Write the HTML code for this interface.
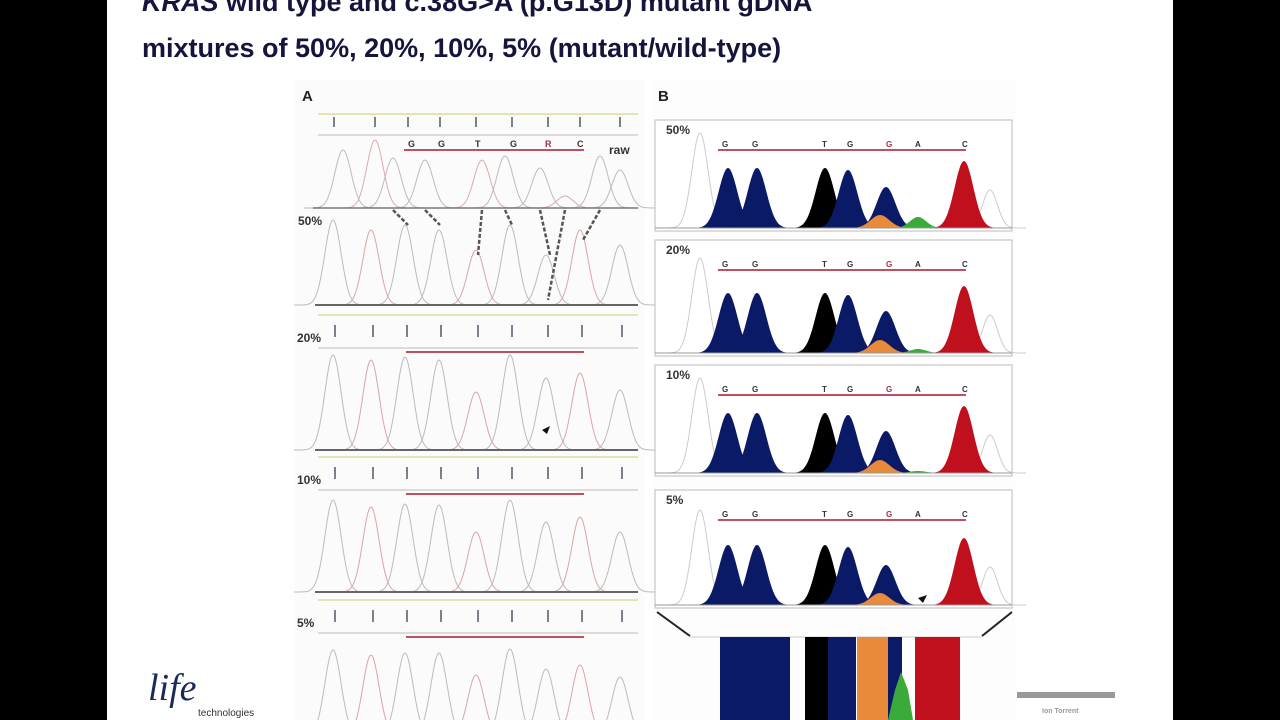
<!DOCTYPE html>
<html><head><meta charset="utf-8"><style>
html,body{margin:0;padding:0;background:#000;}
#slide{position:absolute;left:107px;top:0;width:1066px;height:720px;background:#fff;overflow:hidden}
.t{position:absolute;left:35px;font:bold 27px "Liberation Sans",sans-serif;color:#14143c;white-space:nowrap}
</style></head><body>
<div id="slide">
<div class="t" style="top:-13px"><i>KRAS</i> wild type and c.38G&gt;A (p.G13D) mutant gDNA</div>
<div class="t" style="top:33px">mixtures of 50%, 20%, 10%, 5% (mutant/wild-type)</div>
</div>
<svg id="c" width="1280" height="720" style="position:absolute;left:0;top:0"></svg>
<script>
const aPeaksX=[333,371,405,439,476,510,546,580,620];
const rawX=[343,375,393,425,482,505,540,565,600,620];
const rawH=[58,68,50,48,48,52,40,12,52,38];
const a50H=[85,75,80,75,55,80,50,75,60];
const a20H=[95,90,93,90,58,95,72,77,60];
const a10H=[92,85,88,87,60,92,70,75,60];
const a5H=[85,80,82,82,60,86,66,70,58];
const aPanels=[{lab:"50%",y:305,h:a50H},{lab:"20%",y:450,h:a20H},{lab:"10%",y:592,h:a10H},{lab:"5%",y:735,h:a5H}];
const bases=["G","G","T","G","G","A","C"];
const baseX=[722,752,822,847,886,915,962];
const bBlueX=[728,757,848,886];
const bBlueH50=[60,60,58,41];
const bBlack=[825,60];
const bRed=[964,67];
const orangeH=[13,13,13,12];
const greenH=[11,4,2,0];
const blue4H=[41,42,42,40];
const bPanels=[{lab:"50%",top:120,y:228},{lab:"20%",top:240,y:353},{lab:"10%",top:365,y:473},{lab:"5%",top:490,y:605}];
const NS="http://www.w3.org/2000/svg";
const svg=document.getElementById('c');
function el(t,a,txt){const e=document.createElementNS(NS,t);for(const k in a)e.setAttribute(k,a[k]);if(txt!==undefined)e.textContent=txt;svg.appendChild(e);return e;}
function peak(x,h,base,w,fill,stroke){let d=`M${x-3*w},${base}`;for(let i=-3*w;i<=3*w;i+=1){d+=` L${x+i},${(base-h*Math.exp(-(i*i)/(2*(w/1.6)**2))).toFixed(1)}`;}if(fill)d+=' Z';const p=el('path',{d:d,fill:fill||'none',stroke:stroke||'none','stroke-width':1});return p;}
let r=el('rect',{x:295,y:80,width:350,height:640,fill:'#fbfbfb'});
r=el('rect',{x:652,y:80,width:363,height:640,fill:'#fdfdfd'});
el('text',{x:302,y:101,'font-family':'Liberation Sans','font-weight':'bold','font-size':15,fill:'#222'},'A');
el('text',{x:658,y:101,'font-family':'Liberation Sans','font-weight':'bold','font-size':15,fill:'#222'},'B');
function aHeader(y0,lab){
 el('line',{x1:318,y1:y0,x2:638,y2:y0,stroke:'#e5e3b0','stroke-width':2});
 el('line',{x1:318,y1:y0+33,x2:638,y2:y0+33,stroke:'#bbb','stroke-width':1});
 aPeaksX.forEach(x=>el('line',{x1:x+2,y1:y0+10,x2:x+2,y2:y0+22,stroke:'#556',"stroke-width":1.5}));
 el('line',{x1:406,y1:y0+37,x2:584,y2:y0+37,stroke:'#c05060','stroke-width':2});
 if(lab)el('text',{x:297,y:y0+27,'font-family':'Liberation Sans','font-weight':'bold','font-size':12,fill:'#333'},lab);
}
el('line',{x1:318,y1:114,x2:638,y2:114,stroke:'#e5e3b0','stroke-width':2});
el('line',{x1:318,y1:135,x2:638,y2:135,stroke:'#bbb'});
rawX.slice(0,9).forEach((x,i)=>el('line',{x1:[334,375,408,440,476,512,548,580,620][i],y1:117,x2:[334,375,408,440,476,512,548,580,620][i],y2:127,stroke:'#556','stroke-width':1.5}));
el('line',{x1:404,y1:150,x2:584,y2:150,stroke:'#c05060','stroke-width':2});
["G","G","T","G","R","C"].forEach((b,i)=>el('text',{x:[408,438,475,510,545,577][i],y:147,'font-family':'Liberation Sans','font-weight':'bold','font-size':9,fill:b=="R"?'#a03040':'#333'},b));
el('text',{x:609,y:154,'font-family':'Liberation Sans','font-weight':'bold','font-size':12,fill:'#333'},'raw');
rawX.forEach((x,i)=>{let p=peak(x,rawH[i],208,13,null,i%3==1?'#d9aaaa':'#bbb');});
el('line',{x1:313,y1:208,x2:638,y2:208,stroke:'#777','stroke-width':1.5});
aPanels.forEach((P,k)=>{
 if(k>0)aHeader(P.y-135,P.lab);
 else el('text',{x:298,y:225,'font-family':'Liberation Sans','font-weight':'bold','font-size':12,fill:'#333'},P.lab);
 aPeaksX.forEach((x,i)=>{let p=peak(x,P.h[i],P.y,13,null,i%3==1?'#d9a5a5':'#bbb');});
 el('line',{x1:315,y1:P.y,x2:638,y2:P.y,stroke:'#666','stroke-width':2});
});
[[393,210,408,225],[425,210,440,225],[482,210,478,255],[505,210,512,225],[540,210,550,255],[565,210,548,300],[600,210,583,240]].forEach(a=>el('line',{x1:a[0],y1:a[1],x2:a[2],y2:a[3],stroke:'#555','stroke-width':2.5,'stroke-dasharray':'4,2'}));
el('path',{d:'M542,430 l8,-4 l-3,8 z',fill:'#111'});
bPanels.forEach((P,k)=>{
 let g=el('rect',{x:655,y:P.top,width:357,height:P.y-P.top+3,fill:'#fff',stroke:'#bbb'});
 
 el('text',{x:666,y:P.top+14,'font-family':'Liberation Sans','font-weight':'bold','font-size':12,fill:'#333'},P.lab);
 bases.forEach((b,i)=>el('text',{x:baseX[i],y:P.top+27,'font-family':'Liberation Sans','font-weight':'bold','font-size':8,fill:i==4?'#a03040':'#333'},b));
 el('line',{x1:718,y1:P.top+30,x2:966,y2:P.top+30,stroke:'#c05060','stroke-width':2});
 peak(700,95,P.y,13,null,'#ccc');
 peak(990,38,P.y,12,null,'#ccc');
 peak(bBlack[0],bBlack[1],P.y,15,'#000');
 bBlueX.forEach((x,i)=>peak(x,i==3?blue4H[k]:bBlueH50[i],P.y,15,'#0a1a66'));
 peak(880,orangeH[k],P.y,15,'#e88a3a');
 if(greenH[k]>0)peak(918,greenH[k],P.y,13,'#3aaa3a');
 peak(bRed[0],bRed[1],P.y,15,'#c0101e');
 el('line',{x1:655,y1:P.y,x2:1012,y2:P.y,stroke:'#999'});
});
el('path',{d:'M918,598 l9,-3 l-4,8 z',fill:'#111'});
el('line',{x1:657,y1:612,x2:690,y2:636,stroke:'#222','stroke-width':2});
el('line',{x1:1012,y1:612,x2:982,y2:636,stroke:'#222','stroke-width':2});
el('line',{x1:690,y1:637,x2:982,y2:637,stroke:'#ccc'});
[[720,790,'#0a1a66'],[805,830,'#000'],[828,856,'#0a1a66'],[857,888,'#e88a3a'],[888,902,'#0a1a66'],[915,960,'#c0101e']].forEach(b=>el('rect',{x:b[0],y:637,width:b[1]-b[0],height:83,fill:b[2]}));
el('path',{d:'M888,720 L895,690 L901,672 L908,690 L913,720 Z',fill:'#3aaa3a'});
el('text',{x:148,y:700,'font-family':'Liberation Serif','font-style':'italic','font-size':38,fill:'#1a2a5a'},'life');
el('text',{x:198,y:716,'font-family':'Liberation Sans','font-size':10,fill:'#333'},'technologies');
el('rect',{x:1017,y:692,width:98,height:6,fill:'#999'});
el('text',{x:1042,y:713,'font-family':'Liberation Sans','font-size':7,'font-weight':'bold',fill:'#999'},'Ion Torrent');
</script>
</body></html>
